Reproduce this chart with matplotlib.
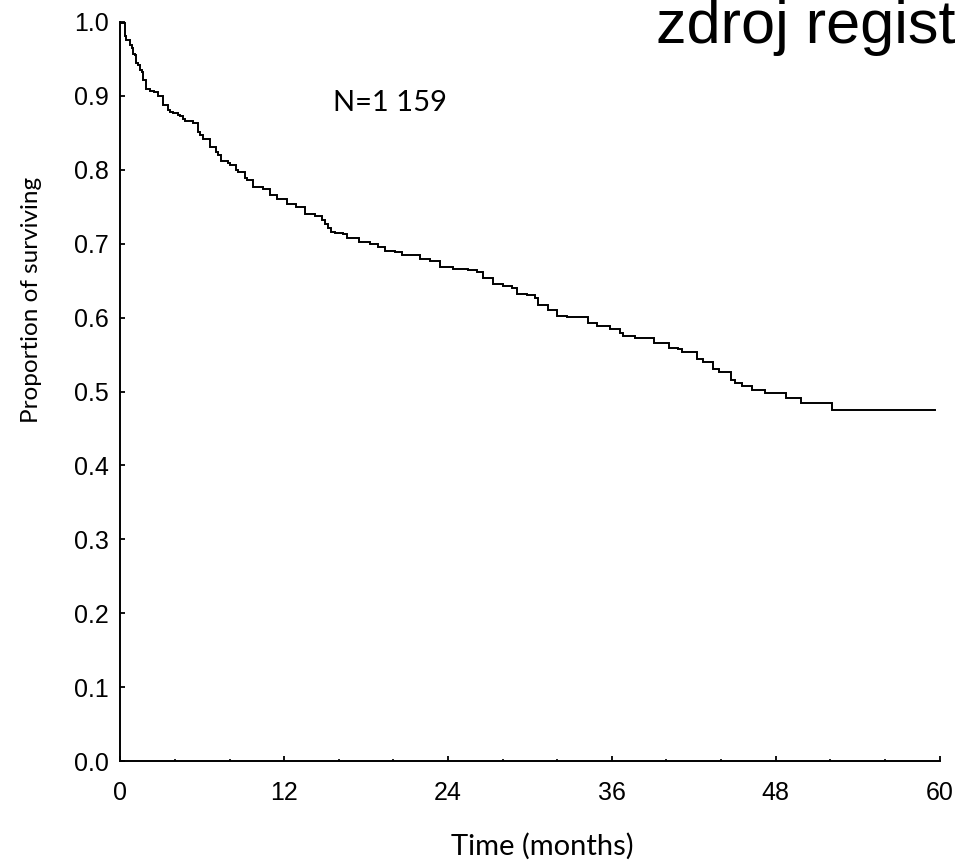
import matplotlib
matplotlib.use("Agg")
import matplotlib.pyplot as plt
from matplotlib.ticker import MultipleLocator, FixedLocator

# ---- data (Kaplan-Meier curve) ----
time_months = [0.00, 0.07, 0.34, 0.43, 0.68, 0.83, 0.92, 1.07, 1.17, 1.31,
               1.41, 1.56, 1.66, 1.90, 2.14, 2.46, 2.75, 3.12, 3.49, 3.63,
               3.85, 4.24, 4.34, 4.61, 4.71, 5.32, 5.68, 5.83, 6.05, 6.54,
               7.03, 7.17, 7.39, 7.88, 8.03, 8.49, 8.64, 9.10, 9.25, 9.71,
               10.45, 10.93, 11.45, 12.18, 12.89, 13.50, 14.26, 14.75, 14.97, 15.23,
               15.45, 15.72, 16.33, 16.58, 17.19, 17.50, 18.29, 18.89, 19.38, 20.12,
               20.61, 21.34, 21.95, 22.68, 23.41, 24.39, 25.49, 26.10, 26.59, 27.32,
               28.05, 28.67, 29.03, 29.77, 30.37, 30.62, 31.35, 31.96, 32.70, 34.28,
               34.89, 35.87, 36.60, 36.85, 37.70, 39.10, 40.20, 40.87, 41.12, 42.22,
               42.70, 43.40, 43.88, 44.75, 45.03, 45.52, 46.25, 47.22, 48.72, 49.88,
               52.13, 59.68]
survival = [1.000, 0.998, 0.980, 0.975, 0.968, 0.964, 0.957, 0.955, 0.944, 0.941,
            0.935, 0.932, 0.921, 0.909, 0.906, 0.905, 0.899, 0.887, 0.881, 0.878,
            0.876, 0.874, 0.872, 0.869, 0.866, 0.863, 0.851, 0.847, 0.842, 0.831,
            0.824, 0.820, 0.812, 0.809, 0.806, 0.800, 0.797, 0.788, 0.786, 0.777,
            0.774, 0.766, 0.760, 0.754, 0.750, 0.740, 0.737, 0.732, 0.727, 0.721,
            0.716, 0.714, 0.713, 0.708, 0.707, 0.702, 0.699, 0.695, 0.690, 0.689,
            0.685, 0.684, 0.679, 0.676, 0.669, 0.666, 0.664, 0.661, 0.653, 0.645,
            0.643, 0.640, 0.632, 0.630, 0.627, 0.617, 0.610, 0.602, 0.601, 0.593,
            0.588, 0.585, 0.579, 0.575, 0.573, 0.566, 0.559, 0.557, 0.553, 0.544,
            0.540, 0.531, 0.526, 0.516, 0.512, 0.507, 0.502, 0.498, 0.491, 0.484,
            0.475, 0.475]

x_ticks = [0, 12, 24, 36, 48, 60]
y_ticks = [0.0, 0.1, 0.2, 0.3, 0.4, 0.5, 0.6, 0.7, 0.8, 0.9, 1.0]
y_tick_labels = ["0.0", "0.1", "0.2", "0.3", "0.4", "0.5", "0.6", "0.7", "0.8", "0.9", "1.0"]

title_text = "zdroj regist"
n_text = "N=1 159"
xlabel_text = "Time (months)"
ylabel_text = "Proportion of surviving"

# ---- figure ----
W, H = 958, 864
fig = plt.figure(figsize=(W / 100, H / 100), dpi=100)
fig.patch.set_facecolor("white")

left, right = 120.4 / W, 939.5 / W
bottom, top = 1 - 761.3 / H, 1 - 21.7 / H
ax = fig.add_axes([left, bottom, right - left, top - bottom])

ax.step(time_months, survival, where="post", color="black", lw=1.4, solid_joinstyle="miter")

ax.set_xlim(0, 60)
ax.set_ylim(0, 1)

for s in ("top", "right"):
    ax.spines[s].set_visible(False)
for s in ("left", "bottom"):
    ax.spines[s].set_linewidth(1.4)
    ax.spines[s].set_color("black")

ax.xaxis.set_major_locator(FixedLocator(x_ticks))
ax.xaxis.set_minor_locator(MultipleLocator(4))
ax.set_xticklabels([str(v) for v in x_ticks])
ax.yaxis.set_major_locator(FixedLocator(y_ticks))
ax.set_yticklabels(y_tick_labels)

for lab in ax.get_xticklabels() + ax.get_yticklabels():
    lab.set_fontfamily(["Liberation Sans", "DejaVu Sans"])
    lab.set_fontsize(18)

ax.tick_params(axis="x", which="major", direction="in", length=3.6, width=1.3, pad=14.5, colors="black")
ax.tick_params(axis="x", which="minor", direction="in", length=1.6, width=1.2)
ax.tick_params(axis="y", which="major", direction="in", length=3.6, width=1.3, pad=8.5, colors="black")
ax.tick_params(axis="y", which="minor", left=False)

# ---- texts ----
fig.text(656 / W, 1 - 42.7 / H, title_text, ha="left", va="baseline",
         fontsize=44, family=["Liberation Sans", "DejaVu Sans"], color="black")

fig.text(390 / W, 1 - 111 / H, n_text, ha="center", va="baseline",
         fontsize=21, family=["Lato", "DejaVu Sans"], color="black")

fig.text(542.5 / W, 1 - 855 / H, xlabel_text, ha="center", va="baseline",
         fontsize=21, family=["Lato", "DejaVu Sans"], color="black")

fig.text(32 / W, 1 - 300 / H, ylabel_text, ha="center", va="center", rotation=90,
         fontsize=17.5, family=["Lato", "DejaVu Sans"], color="black")

fig.savefig("out.png", dpi=100, facecolor="white")
